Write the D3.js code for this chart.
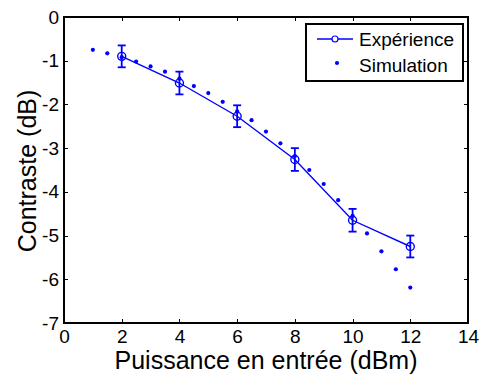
<!DOCTYPE html>
<html>
<head>
<meta charset="utf-8">
<script src="https://cdn.jsdelivr.net/npm/d3@7"></script>
<style>
  body { margin: 0; background: #fff; }
  svg text { font-family: "Liberation Sans", Arial, sans-serif; }
</style>
</head>
<body>
<div id="chart"></div>
<script>
const width = 479;
const height = 374;

// Expérience (mesures avec barres d'erreur)
const expX = [2, 4, 6, 8, 10, 12];
const expY = [-0.90, -1.51, -2.27, -3.26, -4.65, -5.25];
const expErr = [0.25, 0.26, 0.25, 0.26, 0.26, 0.25];

// Simulation
const simX = [1, 1.5, 2, 2.5, 3, 3.5, 4, 4.5, 5, 5.5, 6, 6.5, 7, 7.5, 8, 8.5, 9, 9.5, 10, 10.5, 11, 11.5, 12];
const simY = [-0.75, -0.83, -0.92, -1.02, -1.13, -1.25, -1.41, -1.58, -1.74, -1.94, -2.16, -2.36, -2.62, -2.89,
              -3.18, -3.50, -3.82, -4.19, -4.55, -4.95, -5.36, -5.77, -6.19];

const xTicks = [0, 2, 4, 6, 8, 10, 12, 14];
const yTicks = [0, -1, -2, -3, -4, -5, -6, -7];

const blue = "#0000ff";
const plot = {left: 64, right: 468, top: 17, bottom: 323};

const svg = d3.select("#chart")
              .append("svg")
              .attr("width", width)
              .attr("height", height);

svg.append("rect").attr("width", width).attr("height", height).attr("fill", "#fff");

const x = d3.scaleLinear().domain([0, 14]).range([plot.left, plot.right]);
const y = d3.scaleLinear().domain([-7, 0]).range([plot.bottom, plot.top]);

// axes (ticks pointing inward, box all round)
const fmt = d => String(d);
const bottomAxis = d3.axisBottom(x).tickValues(xTicks).tickFormat(fmt).tickSizeInner(-4).tickSizeOuter(0).tickPadding(7);
const leftAxis = d3.axisLeft(y).tickValues(yTicks).tickFormat(fmt).tickSizeInner(-4).tickSizeOuter(0).tickPadding(5);
const topAxis = d3.axisTop(x).tickValues(xTicks).tickSizeInner(-4).tickSizeOuter(0).tickFormat("");
const rightAxis = d3.axisRight(y).tickValues(yTicks).tickSizeInner(-4).tickSizeOuter(0).tickFormat("");

function styleAxis(g) {
  g.attr("font-family", null).attr("font-size", null);
  g.select(".domain").remove();
  g.selectAll("line").attr("stroke", "#000").attr("shape-rendering", "crispEdges");
  g.selectAll("text").attr("fill", "#000").style("font-size", "19px");
}

svg.append("g").attr("transform", "translate(0," + plot.bottom + ")").call(bottomAxis).call(styleAxis);
svg.append("g").attr("transform", "translate(" + plot.left + ",0)").call(leftAxis).call(styleAxis);
svg.append("g").attr("transform", "translate(0," + plot.top + ")").call(topAxis).call(styleAxis);
svg.append("g").attr("transform", "translate(" + plot.right + ",0)").call(rightAxis).call(styleAxis);

svg.append("rect")
   .attr("x", plot.left).attr("y", plot.top)
   .attr("width", plot.right - plot.left).attr("height", plot.bottom - plot.top)
   .attr("fill", "none").attr("stroke", "#000").attr("stroke-width", 1.2)
   .attr("shape-rendering", "crispEdges");

// axis titles
svg.append("text")
   .attr("x", (plot.left + plot.right) / 2)
   .attr("y", 369)
   .attr("text-anchor", "middle")
   .style("font-size", "25px")
   .text("Puissance en entrée (dBm)");

svg.append("text")
   .attr("transform", "translate(36," + 171 + ") rotate(-90)")
   .attr("text-anchor", "middle")
   .style("font-size", "25px")
   .text("Contraste (dB)");

// simulation dots
const simData = simX.map((d, i) => [d, simY[i]]);
svg.append("g").selectAll("circle")
   .data(simData)
   .enter()
   .append("circle")
   .attr("cx", d => x(d[0]))
   .attr("cy", d => y(d[1]))
   .attr("r", 2.1)
   .attr("fill", blue);

// experience line
const expData = expX.map((d, i) => ({x: d, y: expY[i], e: expErr[i]}));
const line = d3.line().x(d => x(d.x)).y(d => y(d.y));

svg.append("path")
   .datum(expData)
   .attr("d", line)
   .attr("fill", "none")
   .attr("stroke", blue)
   .attr("stroke-width", 1.4);

// error bars
const bars = svg.append("g").attr("stroke", blue).attr("stroke-width", 1.8);
bars.selectAll(".err")
    .data(expData)
    .enter()
    .append("line")
    .attr("x1", d => x(d.x)).attr("x2", d => x(d.x))
    .attr("y1", d => y(d.y + d.e)).attr("y2", d => y(d.y - d.e));
bars.selectAll(".capTop")
    .data(expData)
    .enter()
    .append("line")
    .attr("x1", d => x(d.x) - 4).attr("x2", d => x(d.x) + 4)
    .attr("y1", d => y(d.y + d.e)).attr("y2", d => y(d.y + d.e));
bars.selectAll(".capBot")
    .data(expData)
    .enter()
    .append("line")
    .attr("x1", d => x(d.x) - 4).attr("x2", d => x(d.x) + 4)
    .attr("y1", d => y(d.y - d.e)).attr("y2", d => y(d.y - d.e));

svg.append("g").selectAll("circle")
   .data(expData)
   .enter()
   .append("circle")
   .attr("cx", d => x(d.x))
   .attr("cy", d => y(d.y))
   .attr("r", 4)
   .attr("fill", "none")
   .attr("stroke", blue)
   .attr("stroke-width", 1.4);

// legend
const legend = svg.append("g");
legend.append("rect")
      .attr("x", 306).attr("y", 24)
      .attr("width", 157).attr("height", 57)
      .attr("fill", "#fff").attr("stroke", "#000").attr("stroke-width", 1.2)
      .attr("shape-rendering", "crispEdges");
legend.append("line")
      .attr("x1", 317).attr("x2", 353).attr("y1", 39).attr("y2", 39)
      .attr("stroke", blue).attr("stroke-width", 1.4);
legend.append("circle")
      .attr("cx", 335).attr("cy", 39).attr("r", 3)
      .attr("fill", "#fff").attr("stroke", blue).attr("stroke-width", 1.2);
legend.append("circle")
      .attr("cx", 337).attr("cy", 63).attr("r", 2.1).attr("fill", blue);
legend.append("text")
      .attr("x", 359).attr("y", 46)
      .style("font-size", "19px")
      .text("Expérience");
legend.append("text")
      .attr("x", 359).attr("y", 72)
      .style("font-size", "19px")
      .text("Simulation");
</script>
</body>
</html>
